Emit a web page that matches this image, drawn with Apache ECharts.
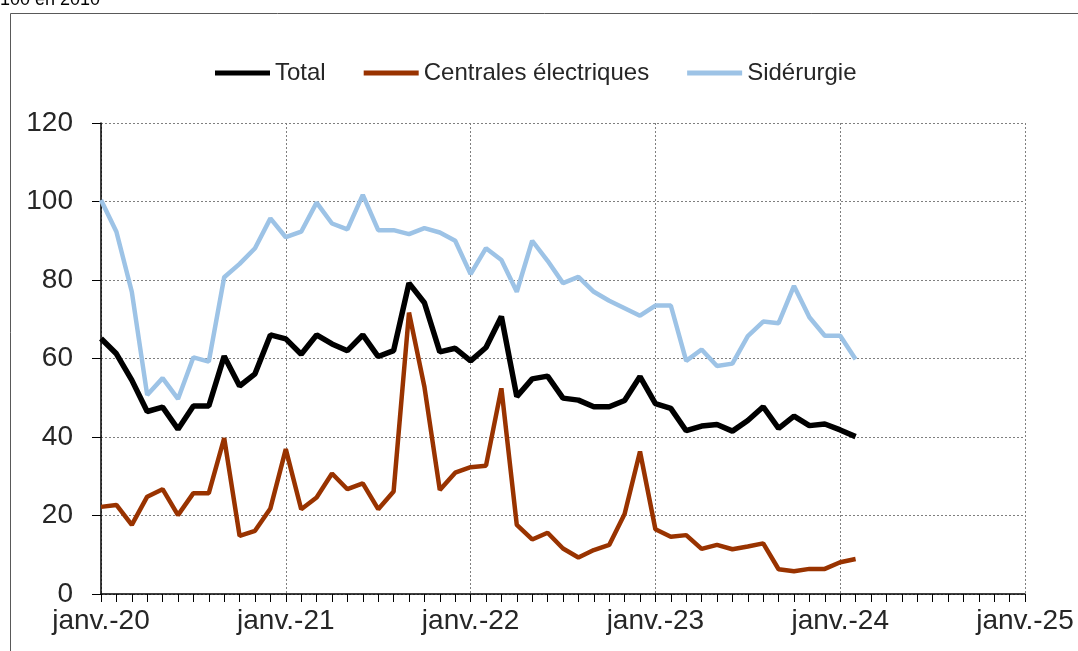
<!DOCTYPE html>
<html>
<head>
<meta charset="utf-8">
<script src="https://cdn.jsdelivr.net/npm/echarts@6/dist/echarts.min.js"></script>
<style>
html,body{margin:0;padding:0;background:#fff;}
#chart{width:1078px;height:651px;}
</style>
</head>
<body>
<div id="chart"></div>
<script>
// Months (Jan 2020 .. Feb 2024)
const months = [
 "2020-01","2020-02","2020-03","2020-04","2020-05","2020-06","2020-07","2020-08","2020-09","2020-10","2020-11","2020-12",
 "2021-01","2021-02","2021-03","2021-04","2021-05","2021-06","2021-07","2021-08","2021-09","2021-10","2021-11","2021-12",
 "2022-01","2022-02","2022-03","2022-04","2022-05","2022-06","2022-07","2022-08","2022-09","2022-10","2022-11","2022-12",
 "2023-01","2023-02","2023-03","2023-04","2023-05","2023-06","2023-07","2023-08","2023-09","2023-10","2023-11","2023-12",
 "2024-01","2024-02"
];
const seriesNames = ["Total", "Centrales électriques", "Sidérurgie"];
const total = [
 65.1,61.2,54.5,46.5,47.6,42.0,47.9,47.9,60.6,53.0,56.1,66.0,
 65.0,61.1,66.0,63.7,62.0,66.0,60.5,62.0,79.2,74.2,61.7,62.6,
 59.4,62.8,70.7,50.3,54.8,55.5,49.9,49.4,47.7,47.7,49.3,55.4,
 48.5,47.3,41.6,42.8,43.2,41.5,44.2,47.7,42.2,45.3,42.9,43.3,
 41.8,40.1
];
const centrales = [
 22.2,22.7,17.6,24.8,26.7,20.1,25.7,25.7,39.7,14.8,16.1,21.8,
 36.9,21.6,24.6,30.7,26.7,28.2,21.6,26.1,71.7,52.8,26.5,30.9,
 32.3,32.7,52.4,17.6,13.9,15.6,11.6,9.3,11.2,12.5,20.4,36.3,
 16.5,14.6,15.0,11.5,12.5,11.4,12.1,12.9,6.3,5.8,6.4,6.4,
 8.1,8.9
];
const siderurgie = [
 100.4,92.3,77.0,50.7,55.0,49.7,60.3,59.2,80.7,84.1,88.1,95.7,
 90.9,92.3,99.7,94.4,92.9,101.7,92.7,92.7,91.7,93.2,92.1,90.0,
 81.5,88.1,85.1,77.0,90.0,84.9,79.2,80.8,77.0,74.7,72.8,70.9,
 73.5,73.5,59.4,62.3,58.1,58.7,65.7,69.4,69.0,78.5,70.5,65.8,
 65.8,59.8
];
const xTickLabels = ["janv.-20","janv.-21","janv.-22","janv.-23","janv.-24","janv.-25"];
const yTicks = [0,20,40,60,80,100,120];
const unitLabel = "100 en 2010";

const startYear = 2020;
function idx(m){ const p = m.split("-"); return (parseInt(p[0]) - startYear) * 12 + (parseInt(p[1]) - 1); }
function pairs(vals){ return months.map((m,i)=>[idx(m), vals[i]]); }

const chart = echarts.init(document.getElementById('chart'), null, {renderer:'canvas'});
const fontFam = '"Liberation Sans", Arial, sans-serif';
const option = {
  animation: false,
  backgroundColor: '#ffffff',
  graphic: [
    {type:'rect', shape:{x:10.5, y:13.5, width:1200, height:800}, style:{fill:'none', stroke:'#595959', lineWidth:1}, silent:true, z:-1},
    {type:'text', left:0, top:-9, style:{text:unitLabel, font:'18px ' + fontFam, fill:'#000'}, silent:true}
  ],
  legend: {
    left: 210, top: 56,
    itemWidth: 55, itemHeight: 5, itemGap: 38,
    icon: 'rect',
    textStyle: {fontSize: 24, color: '#262626', fontFamily: fontFam},
    data: seriesNames
  },
  grid: {left:101, right:53, top:123, bottom:57, containLabel:false},
  xAxis: {
    type: 'value', min: 0, max: 60, interval: 12,
    axisLine: {show:true, lineStyle:{color:'#000', width:1.5}},
    axisTick: {show:true, length:8, lineStyle:{color:'#000', width:1}},
    minorTick: {show:true, splitNumber:12, length:8, lineStyle:{color:'#000', width:1}},
    axisLabel: {fontSize:28, color:'#262626', fontFamily:fontFam, margin:13,
      formatter: v => xTickLabels[Math.round(v/12)] || ''},
    splitLine: {show:true, lineStyle:{color:'#7f7f7f', type:[2,2], width:1}}
  },
  yAxis: {
    type: 'value', min: yTicks[0], max: yTicks[yTicks.length-1], interval: 20,
    axisLine: {show:true, lineStyle:{color:'#000', width:1.5}},
    axisTick: {show:true, length:9, lineStyle:{color:'#000', width:1}},
    axisLabel: {fontSize:28, color:'#262626', fontFamily:fontFam, margin:28},
    splitLine: {show:true, lineStyle:{color:'#7f7f7f', type:[2,2], width:1}}
  },
  series: [
    {name: seriesNames[2], type:'line', data: pairs(siderurgie), symbol:'none',
     lineStyle:{color:'#9DC3E6', width:4.5}, itemStyle:{color:'#9DC3E6'}, z:2},
    {name: seriesNames[0], type:'line', data: pairs(total), symbol:'none',
     lineStyle:{color:'#000000', width:5.5}, itemStyle:{color:'#000000'}, z:3},
    {name: seriesNames[1], type:'line', data: pairs(centrales), symbol:'none',
     lineStyle:{color:'#993300', width:4.5}, itemStyle:{color:'#993300'}, z:4}
  ]
};
chart.setOption(option);
</script>
</body>
</html>
